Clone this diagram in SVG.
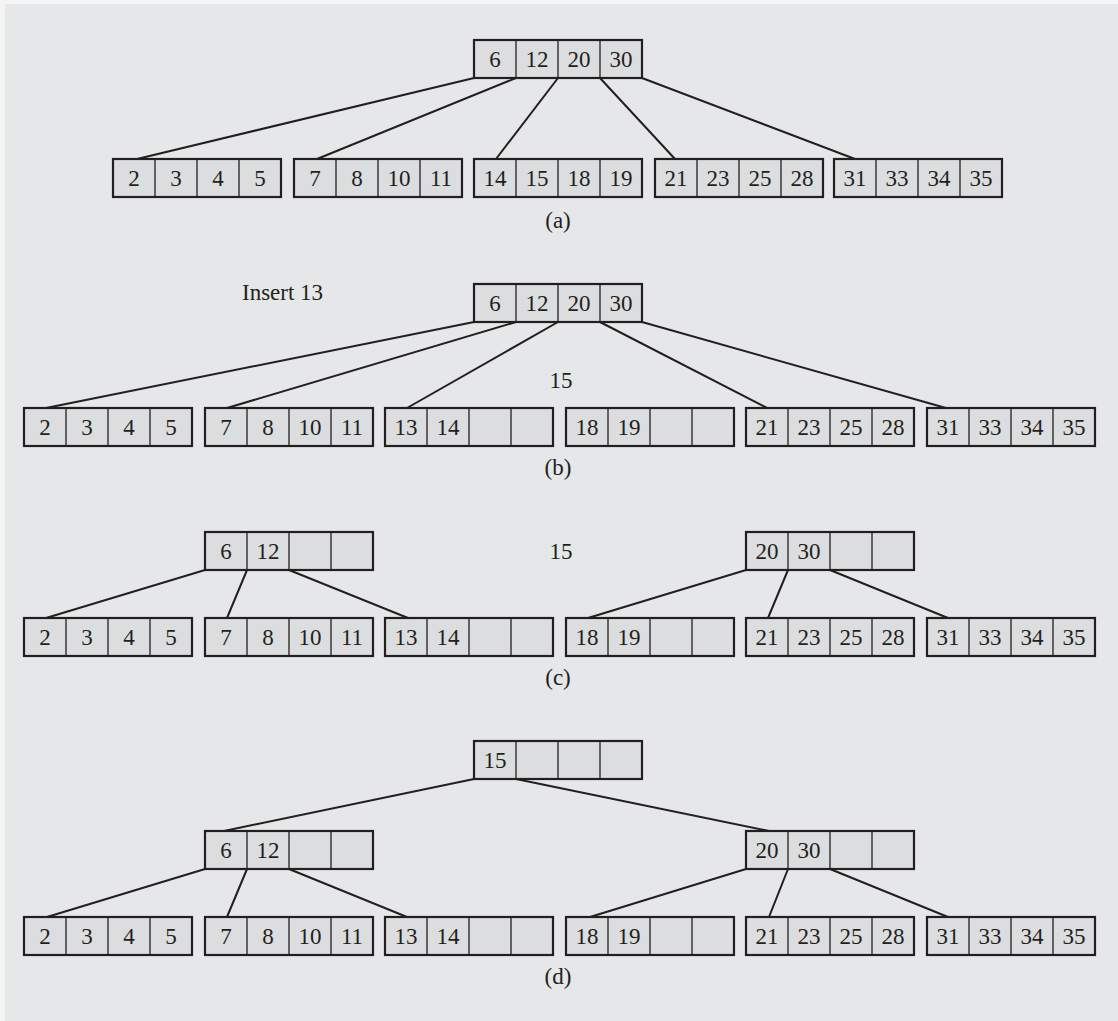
<svg xmlns="http://www.w3.org/2000/svg" width="1118" height="1021" viewBox="0 0 1118 1021">
<style>
.box{fill:#dcdddf;stroke:#231f20;stroke-width:2.2}
.div{stroke:#231f20;stroke-width:1.3;fill:none}
.t{font-family:"Liberation Serif","Times New Roman",serif;font-size:23px;fill:#231f20;text-anchor:middle}
.lbl{font-family:"Liberation Serif","Times New Roman",serif;font-size:23px;fill:#231f20}
.conn path{stroke:#231f20;stroke-width:2;fill:none}
</style>
<defs>
<g id="cell4"><rect class="box" width="168" height="38"/><path class="div" d="M42 0V38M84 0V38M126 0V38"/></g>
</defs>
<rect x="0" y="0" width="1118" height="1021" fill="#f4f4f4"/>
<rect x="5" y="4" width="1113" height="1017" fill="#e6e7e8"/>

<g class="conn" id="connectors">
<path d="M474 78L137 159M516 78L317 159M558 78L496 159M600 78L675 159M642 78L855 159"/>
<path d="M474 322L46 408M516 322L227 408M558 322L407 408M600 322L767 408M642 322L946 408"/>
<path d="M205 570L46 618M247 570L227 618M289 570L408 618M746 570L588 618M788 570L768 618M830 570L948 618"/>
<path d="M474 779L224 831M516 779L769 831M205 869L47 917M247 869L227 917M289 869L407 917M746 869L590 917M788 869L769 917M830 869L948 917"/>
</g>

<!-- (a) -->
<g id="a-root" transform="translate(474,40)"><use href="#cell4"/><text class="t" x="21" y="27">6</text><text class="t" x="63" y="27">12</text><text class="t" x="105" y="27">20</text><text class="t" x="147" y="27">30</text></g>
<g id="a-l1" transform="translate(113,159)"><use href="#cell4"/><text class="t" x="21" y="27">2</text><text class="t" x="63" y="27">3</text><text class="t" x="105" y="27">4</text><text class="t" x="147" y="27">5</text></g>
<g id="a-l2" transform="translate(294,159)"><use href="#cell4"/><text class="t" x="21" y="27">7</text><text class="t" x="63" y="27">8</text><text class="t" x="105" y="27">10</text><text class="t" x="147" y="27">11</text></g>
<g id="a-l3" transform="translate(474,159)"><use href="#cell4"/><text class="t" x="21" y="27">14</text><text class="t" x="63" y="27">15</text><text class="t" x="105" y="27">18</text><text class="t" x="147" y="27">19</text></g>
<g id="a-l4" transform="translate(655,159)"><use href="#cell4"/><text class="t" x="21" y="27">21</text><text class="t" x="63" y="27">23</text><text class="t" x="105" y="27">25</text><text class="t" x="147" y="27">28</text></g>
<g id="a-l5" transform="translate(834,159)"><use href="#cell4"/><text class="t" x="21" y="27">31</text><text class="t" x="63" y="27">33</text><text class="t" x="105" y="27">34</text><text class="t" x="147" y="27">35</text></g>
<text class="t" x="558" y="228">(a)</text>

<!-- (b) -->
<text class="lbl" x="242" y="300">Insert 13</text>
<text class="t" x="561" y="388">15</text>
<g id="b-root" transform="translate(474,284)"><use href="#cell4"/><text class="t" x="21" y="27">6</text><text class="t" x="63" y="27">12</text><text class="t" x="105" y="27">20</text><text class="t" x="147" y="27">30</text></g>
<g id="b-l1" transform="translate(24,408)"><use href="#cell4"/><text class="t" x="21" y="27">2</text><text class="t" x="63" y="27">3</text><text class="t" x="105" y="27">4</text><text class="t" x="147" y="27">5</text></g>
<g id="b-l2" transform="translate(205,408)"><use href="#cell4"/><text class="t" x="21" y="27">7</text><text class="t" x="63" y="27">8</text><text class="t" x="105" y="27">10</text><text class="t" x="147" y="27">11</text></g>
<g id="b-l3" transform="translate(385,408)"><use href="#cell4"/><text class="t" x="21" y="27">13</text><text class="t" x="63" y="27">14</text></g>
<g id="b-l4" transform="translate(566,408)"><use href="#cell4"/><text class="t" x="21" y="27">18</text><text class="t" x="63" y="27">19</text></g>
<g id="b-l5" transform="translate(746,408)"><use href="#cell4"/><text class="t" x="21" y="27">21</text><text class="t" x="63" y="27">23</text><text class="t" x="105" y="27">25</text><text class="t" x="147" y="27">28</text></g>
<g id="b-l6" transform="translate(927,408)"><use href="#cell4"/><text class="t" x="21" y="27">31</text><text class="t" x="63" y="27">33</text><text class="t" x="105" y="27">34</text><text class="t" x="147" y="27">35</text></g>
<text class="t" x="558" y="475">(b)</text>

<!-- (c) -->
<text class="t" x="561" y="559">15</text>
<g id="c-m1" transform="translate(205,532)"><use href="#cell4"/><text class="t" x="21" y="27">6</text><text class="t" x="63" y="27">12</text></g>
<g id="c-m2" transform="translate(746,532)"><use href="#cell4"/><text class="t" x="21" y="27">20</text><text class="t" x="63" y="27">30</text></g>
<g id="c-l1" transform="translate(24,618)"><use href="#cell4"/><text class="t" x="21" y="27">2</text><text class="t" x="63" y="27">3</text><text class="t" x="105" y="27">4</text><text class="t" x="147" y="27">5</text></g>
<g id="c-l2" transform="translate(205,618)"><use href="#cell4"/><text class="t" x="21" y="27">7</text><text class="t" x="63" y="27">8</text><text class="t" x="105" y="27">10</text><text class="t" x="147" y="27">11</text></g>
<g id="c-l3" transform="translate(385,618)"><use href="#cell4"/><text class="t" x="21" y="27">13</text><text class="t" x="63" y="27">14</text></g>
<g id="c-l4" transform="translate(566,618)"><use href="#cell4"/><text class="t" x="21" y="27">18</text><text class="t" x="63" y="27">19</text></g>
<g id="c-l5" transform="translate(746,618)"><use href="#cell4"/><text class="t" x="21" y="27">21</text><text class="t" x="63" y="27">23</text><text class="t" x="105" y="27">25</text><text class="t" x="147" y="27">28</text></g>
<g id="c-l6" transform="translate(927,618)"><use href="#cell4"/><text class="t" x="21" y="27">31</text><text class="t" x="63" y="27">33</text><text class="t" x="105" y="27">34</text><text class="t" x="147" y="27">35</text></g>
<text class="t" x="558" y="685">(c)</text>

<!-- (d) -->
<g id="d-root" transform="translate(474,741)"><use href="#cell4"/><text class="t" x="21" y="27">15</text></g>
<g id="d-m1" transform="translate(205,831)"><use href="#cell4"/><text class="t" x="21" y="27">6</text><text class="t" x="63" y="27">12</text></g>
<g id="d-m2" transform="translate(746,831)"><use href="#cell4"/><text class="t" x="21" y="27">20</text><text class="t" x="63" y="27">30</text></g>
<g id="d-l1" transform="translate(24,917)"><use href="#cell4"/><text class="t" x="21" y="27">2</text><text class="t" x="63" y="27">3</text><text class="t" x="105" y="27">4</text><text class="t" x="147" y="27">5</text></g>
<g id="d-l2" transform="translate(205,917)"><use href="#cell4"/><text class="t" x="21" y="27">7</text><text class="t" x="63" y="27">8</text><text class="t" x="105" y="27">10</text><text class="t" x="147" y="27">11</text></g>
<g id="d-l3" transform="translate(385,917)"><use href="#cell4"/><text class="t" x="21" y="27">13</text><text class="t" x="63" y="27">14</text></g>
<g id="d-l4" transform="translate(566,917)"><use href="#cell4"/><text class="t" x="21" y="27">18</text><text class="t" x="63" y="27">19</text></g>
<g id="d-l5" transform="translate(746,917)"><use href="#cell4"/><text class="t" x="21" y="27">21</text><text class="t" x="63" y="27">23</text><text class="t" x="105" y="27">25</text><text class="t" x="147" y="27">28</text></g>
<g id="d-l6" transform="translate(927,917)"><use href="#cell4"/><text class="t" x="21" y="27">31</text><text class="t" x="63" y="27">33</text><text class="t" x="105" y="27">34</text><text class="t" x="147" y="27">35</text></g>
<text class="t" x="558" y="984">(d)</text>
</svg>
